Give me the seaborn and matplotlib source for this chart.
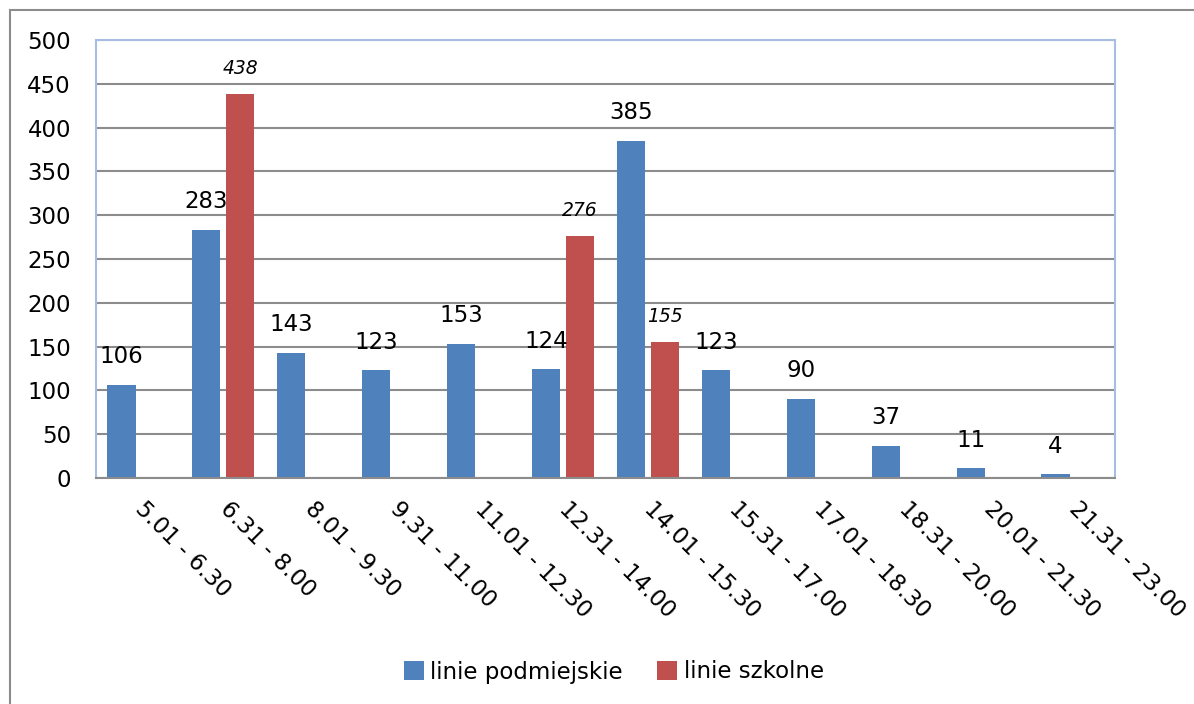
import matplotlib
matplotlib.use("Agg")
import matplotlib.pyplot as plt
import numpy as np
import pandas as pd
import seaborn as sns
from matplotlib.patches import Rectangle

# time bands on the x axis
CATEGORIES = [
    "5.01 - 6.30", "6.31 - 8.00", "8.01 - 9.30", "9.31 - 11.00",
    "11.01 - 12.30", "12.31 - 14.00", "14.01 - 15.30", "15.31 - 17.00",
    "17.01 - 18.30", "18.31 - 20.00", "20.01 - 21.30", "21.31 - 23.00",
]
SUBURBAN = [106, 283, 143, 123, 153, 124, 385, 123, 90, 37, 11, 4]
SCHOOL = [np.nan, 438, np.nan, np.nan, np.nan, 276, 155,
          np.nan, np.nan, np.nan, np.nan, np.nan]
SERIES = ["linie podmiejskie", "linie szkolne"]
COLORS = ["#4F81BD", "#C0504D"]
Y_TICKS = list(range(0, 501, 50))

df = pd.DataFrame({
    "przedzial": CATEGORIES * 2,
    "liczba": SUBURBAN + SCHOOL,
    "seria": [SERIES[0]] * len(CATEGORIES) + [SERIES[1]] * len(CATEGORIES),
})
df = df.dropna()

sns.set_theme(style="white")
plt.rcParams["font.family"] = ["DejaVu Sans"]
plt.rcParams["text.color"] = "black"

fig = plt.figure(figsize=(11.94, 7.04), dpi=100)
ax = fig.add_axes([96 / 1194, 1 - 478 / 704, (1115 - 96) / 1194, (478 - 40) / 704])

sns.barplot(
    data=df, x="przedzial", y="liczba", hue="seria", order=CATEGORIES,
    hue_order=SERIES, palette=COLORS, width=0.8, gap=0.17,
    saturation=1, linewidth=0, ax=ax, legend=True,
)

# data labels: plain for suburban, small italic for school lines
for cont, style in zip(ax.containers, ["normal", "italic"]):
    size = 16.5 if style == "normal" else 13.5
    for bar in cont:
        if bar is None or np.isnan(bar.get_height()):
            continue
        ax.annotate(f"{int(round(bar.get_height()))}",
                    (bar.get_x() + bar.get_width() / 2, bar.get_height()),
                    xytext=(0, 12), textcoords="offset points",
                    ha="center", va="bottom", fontsize=size,
                    fontstyle=style, color="black")

ax.set_ylim(0, 500)
ax.set_yticks(Y_TICKS)
ax.set_xlim(-0.5, len(CATEGORIES) - 0.5)
ax.yaxis.grid(True, color="#8C8C8C", linewidth=1.5)
ax.set_axisbelow(True)
ax.set_xlabel("")
ax.set_ylabel("")
ax.tick_params(axis="y", length=0, pad=18, labelsize=16.5, labelcolor="black")
ax.tick_params(axis="x", length=0, pad=20, labelsize=16.5, labelcolor="black")
plt.setp(ax.get_xticklabels(), rotation=-45, ha="left", va="center",
         rotation_mode="anchor")

for side in ["left", "top", "right"]:
    ax.spines[side].set_color("#A7BDE4")
    ax.spines[side].set_linewidth(1.5)
ax.spines["bottom"].set_color("#8C8C8C")
ax.spines["bottom"].set_linewidth(1.5)

sns.move_legend(
    ax, "center", bbox_to_anchor=(614 / 1194, 1 - 672 / 704),
    bbox_transform=fig.transFigure, ncol=2, frameon=False, title=None,
    fontsize=16.5, handlelength=0.85, handleheight=0.85, handletextpad=0.3,
    columnspacing=1.5, labelcolor="black",
)

# outer chart frame: only top and left edges fall inside the image
fig.add_artist(Rectangle((10 / 1194, -0.2), 1.5, 1.2 - 10 / 704,
                         transform=fig.transFigure, fill=False,
                         edgecolor="#8C8C8C", linewidth=1.5))

fig.savefig("out.png", dpi=100)
